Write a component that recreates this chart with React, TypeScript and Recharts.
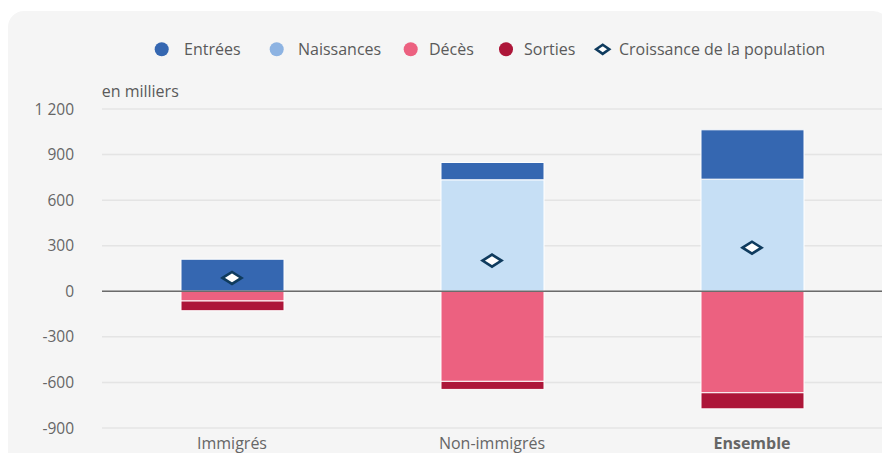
import React from 'react';
import {
  ComposedChart,
  Bar,
  Line,
  XAxis,
  YAxis,
  CartesianGrid,
  ReferenceLine,
} from 'recharts';

const categories = ['Immigrés', 'Non-immigrés', 'Ensemble'];
const entrees = [211, 114, 325];
const naissances = [0, 734, 738];
const deces = [-64, -593, -668];
const sorties = [-64, -53, -106];
const croissance = [88, 202, 287];
const yTicks = [-900, -600, -300, 0, 300, 600, 900, 1200];

const seriesNames = {
  entrees: 'Entrées',
  naissances: 'Naissances',
  deces: 'Décès',
  sorties: 'Sorties',
  croissance: 'Croissance de la population',
};

const COLORS = {
  entrees: '#3567b1',
  naissances: '#c6dff5',
  naissancesLegend: '#8db3e2',
  deces: '#ec6180',
  sorties: '#ad1639',
  croissance: '#0f3b5e',
};

const data = categories.map((c, i) => ({
  name: c,
  entrees: entrees[i],
  naissances: naissances[i],
  deces: deces[i],
  sorties: sorties[i],
  croissance: croissance[i],
}));

const FONT = '"Open Sans", "Noto Sans", sans-serif';

const formatTick = (v: number) => {
  const s = Math.abs(v).toString();
  const withSpace = s.replace(/\B(?=(\d{3})+(?!\d))/g, ' ');
  return (v < 0 ? '-' : '') + withSpace;
};

const Diamond = (props: any) => {
  const { cx, cy } = props;
  if (cx == null || cy == null) return null;
  const w = 9.5;
  const h = 6;
  return (
    <polygon
      points={`${cx - w},${cy} ${cx},${cy - h} ${cx + w},${cy} ${cx},${cy + h}`}
      fill="#ffffff"
      stroke={COLORS.croissance}
      strokeWidth={2.6}
      strokeLinejoin="miter"
    />
  );
};

const XTick = (props: any) => {
  const { x, y, payload } = props;
  const bold = payload.value === 'Ensemble';
  return (
    <text
      x={x}
      y={y + 13}
      textAnchor="middle"
      fill="#666666"
      fontSize={16}
      fontFamily={FONT}
      fontWeight={bold ? 700 : 400}
    >
      {payload.value}
    </text>
  );
};

const legendItems = [
  { key: 'entrees', x: 161.7, textX: 184, color: COLORS.entrees, type: 'dot' },
  { key: 'naissances', x: 276.7, textX: 298, color: COLORS.naissancesLegend, type: 'dot' },
  { key: 'deces', x: 410.7, textX: 429, color: COLORS.deces, type: 'dot' },
  { key: 'sorties', x: 506, textX: 524, color: COLORS.sorties, type: 'dot' },
  { key: 'croissance', x: 602.7, textX: 619, color: COLORS.croissance, type: 'diamond' },
];

export default function App() {
  return (
    <div
      style={{
        position: 'relative',
        width: 882,
        height: 445,
        overflow: 'hidden',
        fontFamily: FONT,
      }}
    >
      <div
        style={{
          position: 'absolute',
          left: 0,
          top: 3,
          width: 881,
          height: 480,
          background: '#f5f5f5',
          borderRadius: 16,
        }}
      />
      <svg
        width={882}
        height={100}
        style={{ position: 'absolute', left: 0, top: 0 }}
      >
        {legendItems.map((it) => (
          <g key={it.key}>
            {it.type === 'dot' ? (
              <circle cx={it.x - 8} cy={41.3} r={7} fill={it.color} />
            ) : (
              <polygon
                points={`${it.x - 8 - 6.5},41.3 ${it.x - 8},36.8 ${it.x - 8 + 6.5},41.3 ${it.x - 8},45.8`}
                fill="#ffffff"
                stroke={it.color}
                strokeWidth={2.6}
              />
            )}
            <text
              x={it.textX - 8}
              y={46.8}
              fontSize={16}
              fill="#5a5a5a"
              fontFamily={FONT}
            >
              {(seriesNames as any)[it.key]}
            </text>
          </g>
        ))}
        <text x={93.7} y={88.7} fontSize={16} fill="#5a5a5a" fontFamily={FONT}>
          en milliers
        </text>
      </svg>
      <div style={{ position: 'absolute', left: 0, top: 0 }}>
        <ComposedChart
          width={882}
          height={445}
          data={data}
          stackOffset="sign"
          margin={{ top: 101, right: 8, bottom: 0, left: 0 }}
          barCategoryGap="30%"
        >
          <CartesianGrid vertical={false} stroke="#e4e4e4" strokeWidth={1.5} />
          <XAxis
            dataKey="name"
            axisLine={false}
            tickLine={false}
            height={25}
            tick={<XTick />}
            interval={0}
          />
          <YAxis
            width={94}
            domain={[-900, 1200]}
            ticks={yTicks}
            tickFormatter={formatTick}
            axisLine={false}
            tickLine={false}
            tickMargin={22}
            tick={{ fill: '#666666', fontSize: 15.5, fontFamily: FONT }}
            interval={0}
          />
          <Bar
            dataKey="naissances"
            name={seriesNames.naissances}
            stackId="a"
            fill={COLORS.naissances}
            stroke="#ffffff"
            strokeWidth={1}
            barSize={103}
            isAnimationActive={false}
          />
          <Bar
            dataKey="entrees"
            name={seriesNames.entrees}
            stackId="a"
            fill={COLORS.entrees}
            stroke="#ffffff"
            strokeWidth={1}
            barSize={103}
            isAnimationActive={false}
          />
          <Bar
            dataKey="deces"
            name={seriesNames.deces}
            stackId="a"
            fill={COLORS.deces}
            stroke="#ffffff"
            strokeWidth={1}
            barSize={103}
            isAnimationActive={false}
          />
          <Bar
            dataKey="sorties"
            name={seriesNames.sorties}
            stackId="a"
            fill={COLORS.sorties}
            stroke="#ffffff"
            strokeWidth={1}
            barSize={103}
            isAnimationActive={false}
          />
          <ReferenceLine y={0} stroke="#6b6b6b" strokeWidth={1.5} />
          <Line
            dataKey="croissance"
            name={seriesNames.croissance}
            stroke="none"
            dot={<Diamond />}
            activeDot={false}
            isAnimationActive={false}
          />
        </ComposedChart>
      </div>
    </div>
  );
}
